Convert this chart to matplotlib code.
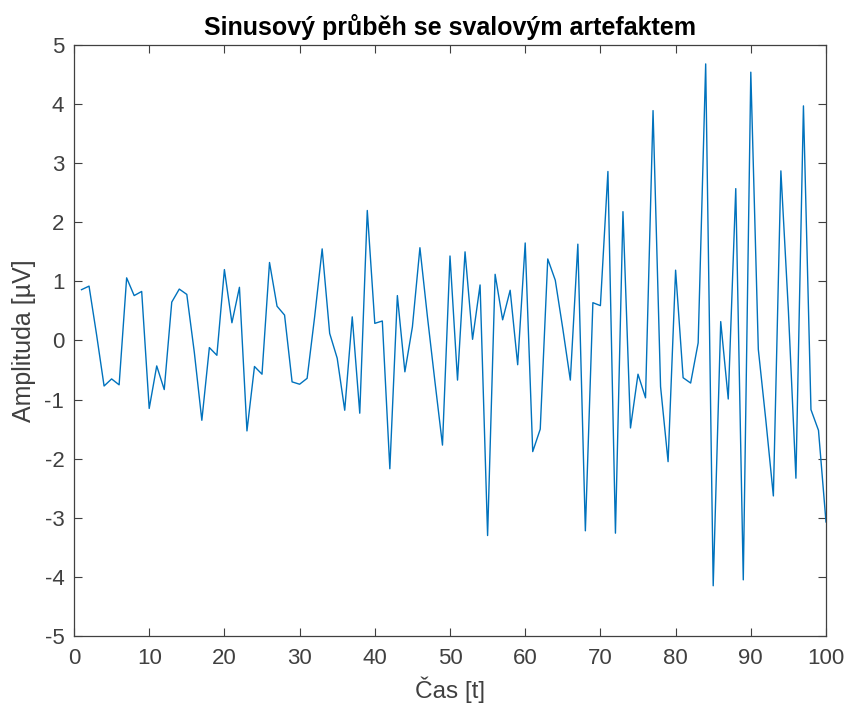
import numpy as np
import matplotlib
matplotlib.use("Agg")
import matplotlib.pyplot as plt

# data
t = np.arange(1, 101)
amplituda = [
    0.86, 0.92, 0.10, -0.77, -0.65, -0.75, 1.06, 0.76, 0.83, -1.15,
    -0.43, -0.83, 0.65, 0.87, 0.78, -0.20, -1.35, -0.12, -0.25, 1.20,
    0.30, 0.90, -1.53, -0.44, -0.57, 1.32, 0.58, 0.43, -0.70, -0.74,
    -0.64, 0.40, 1.55, 0.12, -0.30, -1.18, 0.40, -1.23, 2.20, 0.29,
    0.33, -2.17, 0.76, -0.53, 0.23, 1.57, 0.40, -0.70, -1.77, 1.43,
    -0.67, 1.50, 0.02, 0.94, -3.30, 1.12, 0.35, 0.85, -0.41, 1.65,
    -1.88, -1.50, 1.38, 1.02, 0.20, -0.67, 1.63, -3.22, 0.64, 0.59,
    2.86, -3.26, 2.18, -1.48, -0.57, -0.97, 3.89, -0.78, -2.05, 1.19,
    -0.63, -0.72, -0.04, 4.68, -4.15, 0.32, -0.99, 2.57, -4.05, 4.54,
    -0.15, -1.35, -2.63, 2.87, 0.50, -2.33, 3.97, -1.17, -1.52, -3.07,
]
x_ticks = np.arange(0, 101, 10)
y_ticks = np.arange(-5, 6, 1)

plt.rcParams['font.family'] = ['Liberation Sans', 'DejaVu Sans']
plt.rcParams['axes.unicode_minus'] = False
axis_col = '#404040'

fig = plt.figure(figsize=(8.49, 7.09), dpi=100)
ax = fig.add_axes([74 / 849, 73 / 709, 752 / 849, 591 / 709])

ax.plot(t, amplituda, color='#0072BD', lw=1.0)

ax.set_xlim(0, 100)
ax.set_ylim(-5, 5)
ax.set_xticks(x_ticks)
ax.set_yticks(y_ticks)
ax.tick_params(direction='in', length=6, width=0.8, top=True, right=True,
               labelsize=16, colors=axis_col)
ax.tick_params(axis='x', pad=9)
ax.tick_params(axis='y', pad=7)
for s in ax.spines.values():
    s.set_color(axis_col)
    s.set_linewidth(0.9)

ax.set_title('Sinusový průběh se svalovým artefaktem', fontsize=18,
             fontweight='bold', pad=7)
ax.set_xlabel('Čas [t]', fontsize=17.5, color=axis_col, labelpad=5)
ax.set_ylabel('Amplituda [µV]', fontsize=18, color=axis_col, labelpad=6)

fig.savefig('out.png', dpi=100)
